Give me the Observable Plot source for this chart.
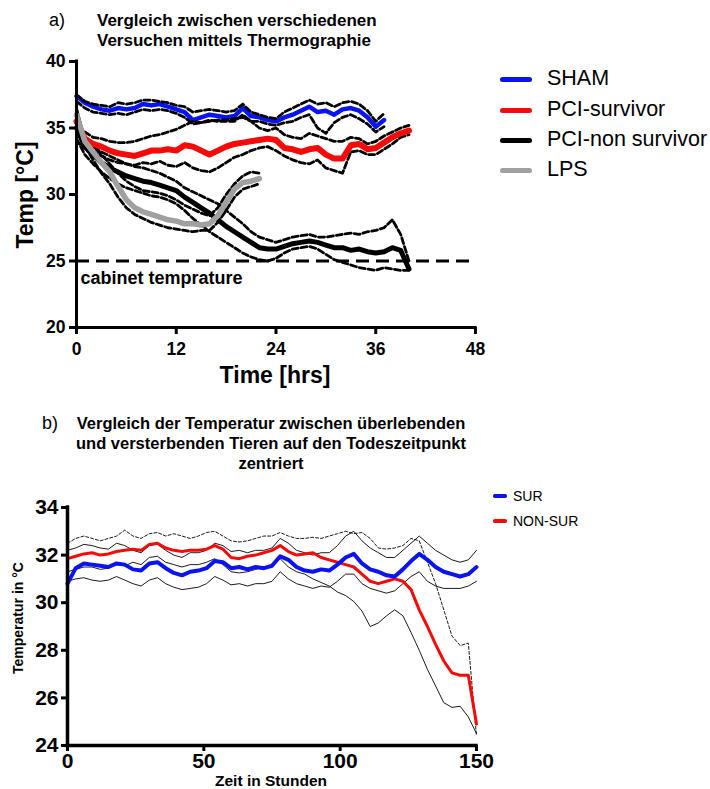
<!DOCTYPE html>
<html><head><meta charset="utf-8">
<script src="https://cdn.jsdelivr.net/npm/d3@7"></script>
<script src="https://cdn.jsdelivr.net/npm/@observablehq/plot@0.6"></script>
<style>
body{margin:0;background:#fff;}
#root{position:relative;width:710px;height:789px;overflow:hidden;font-family:"Liberation Sans",Arial,sans-serif;color:#000;background:#fff;}
.lbl{position:absolute;white-space:nowrap;line-height:1;}
.chart{position:absolute;left:0;}
</style></head><body><div id="root"></div>
<script>
// ---------------- Panel a data ----------------
const titleA = ["Vergleich zwischen verschiedenen", "Versuchen mittels Thermographie"];
const hoursA = [0,1,2,3,4,5,6,7,8,9,10,11,12,13,14,15,16,17,18,19,20,21,22,23,24,25,26,27,28,29,30,31,32,33,34,35,36,37,38,39,40];
const xTicksA = [0,12,24,36,48];
const yTicksA = [20,25,30,35,40];
const xDomainA = [0,48];
const yDomainA = [20,40];
const cabinetTemp = [25];
const cabinetLabel = "cabinet temprature";
const legendA = ["SHAM","PCI-survivor","PCI-non survivor","LPS"];
const colorsA = ["#0a14f0","#f50a0a","#000000","#a0a0a0"];

const shamMean = [37.4,36.9,36.6,36.4,36.3,36.5,36.4,36.5,36.8,36.7,
 36.8,36.6,36.4,36.2,35.6,35.8,36.0,35.9,35.8,35.9,
 36.5,35.9,35.8,35.6,35.5,35.8,36.0,36.3,36.6,36.2,
 36.3,36.0,36.4,36.5,36.3,35.8,35.1,35.6];
const shamUp = [37.5,37.0,36.8,36.7,36.6,36.9,36.8,36.9,37.1,37.1,
 37.0,36.9,36.7,36.6,36.2,36.3,36.4,36.3,36.2,36.3,
 36.8,36.2,36.0,35.8,35.7,36.2,36.5,36.8,37.1,36.8,
 36.9,36.6,36.9,37.0,36.8,36.3,35.5,36.1];
const shamLo = [37.0,36.5,36.2,36.1,36.0,36.1,36.0,36.2,36.4,36.3,
 36.4,36.3,36.1,35.8,35.3,35.4,35.6,35.5,35.5,35.5,
 36.0,35.5,35.5,35.3,35.2,35.4,35.5,35.8,36.0,35.0,
 34.6,35.4,35.8,36.0,35.7,35.3,34.7,35.1];

const survMean = [35.5,34.2,33.8,33.6,33.3,33.1,33.0,32.9,33.1,33.3,
 33.3,33.4,33.3,33.7,33.6,33.3,33.0,33.3,33.6,33.8,
 33.9,34.0,34.1,34.2,34.1,33.5,33.4,33.2,33.4,33.5,
 33.0,32.7,32.7,33.7,33.8,33.4,33.5,33.9,34.3,34.6,
 34.8];
const survUp = [35.0,34.7,34.3,34.2,34.0,33.9,33.9,34.0,34.2,34.4,
 34.5,34.7,34.9,35.2,35.5,35.4,35.5,35.6,35.6,35.7,
 35.8,35.5,35.0,34.8,35.0,34.5,34.3,34.2,34.6,34.4,
 34.2,34.0,34.0,34.3,34.2,33.8,34.0,34.4,34.7,35.0,
 35.2];
const survLo = [34.0,33.5,33.2,32.9,32.6,32.4,32.3,32.2,32.4,32.3,
 32.5,32.2,32.1,32.4,32.0,31.8,31.7,32.0,32.4,32.8,
 33.0,33.3,33.5,33.6,33.3,32.9,32.6,32.4,32.3,32.6,
 32.0,31.8,31.6,33.2,33.3,33.0,33.0,33.4,33.8,34.3,
 34.5];

const nsMean = [35.0,33.6,33.0,32.4,32.0,31.7,31.4,31.2,31.0,30.9,
 30.7,30.5,30.3,29.8,29.4,29.0,28.6,28.1,27.6,27.2,
 26.8,26.4,26.0,25.9,25.9,26.1,26.3,26.4,26.5,26.4,
 26.2,26.0,26.0,25.8,25.9,25.7,25.6,25.7,26.0,25.8,
 24.4];
const nsUp = [36.5,34.0,33.6,33.2,32.9,32.6,32.3,32.1,32.0,31.8,
 31.6,31.3,31.0,30.5,30.2,29.9,29.6,29.3,28.8,28.3,
 27.8,27.2,26.8,26.6,26.4,26.6,26.8,26.9,27.0,26.8,
 26.8,26.9,27.0,27.1,27.0,27.2,27.3,27.5,28.1,27.0,
 25.0];
const nsLo = [34.2,33.0,32.3,31.7,31.2,30.8,30.5,30.3,30.1,29.9,
 29.8,29.6,29.3,28.8,28.2,27.7,27.2,26.8,26.4,26.0,
 25.6,25.3,25.1,25.0,25.2,25.6,25.9,26.0,26.1,25.9,
 25.5,25.1,24.9,24.7,24.5,24.4,24.3,24.5,24.4,24.3,
 24.3];

const lpsMean = [36.0,34.0,33.2,32.4,31.7,30.6,29.6,29.0,28.7,28.5,
 28.3,28.1,28.0,27.8,27.8,27.7,27.8,28.4,29.4,30.4,
 30.9,31.0,31.2];
const lpsUp = [36.3,34.2,33.6,33.0,32.3,31.6,31.0,30.6,30.3,30.2,
 30.1,29.9,29.6,29.2,28.9,28.6,28.4,29.0,30.0,30.8,
 31.4,31.7,31.6];
const lpsLo = [35.5,33.6,32.6,31.6,30.8,29.8,29.0,28.5,28.2,27.9,
 27.7,27.5,27.4,27.3,27.2,27.3,27.3,27.9,28.8,29.8,
 30.4,30.6,30.8];

// ---------------- Panel b data ----------------
const titleB = ["Vergleich der Temperatur zwischen überlebenden", "und versterbenden Tieren auf den Todeszeitpunkt", "zentriert"];
const hoursB = [0,3,6,9,12,15,18,21,24,27,30,33,36,39,42,45,48,51,54,57,60,63,66,69,72,75,78,81,84,87,90,93,96,99,102,105,108,111,114,117,120,123,126,129,132,135,138,141,144,147,150];
const xTicksB = [0,50,100,150];
const yTicksB = [24,26,28,30,32,34];
const xDomainB = [0,150];
const yDomainB = [24,34];
const legendB = ["SUR","NON-SUR"];
const colorsB = ["#0a14f0","#f50a0a"];

const surMean = [30.8,31.45,31.65,31.6,31.55,31.5,31.65,31.6,31.4,31.35,
 31.65,31.7,31.45,31.25,31.15,31.3,31.35,31.45,31.75,31.7,
 31.45,31.5,31.4,31.5,31.45,31.55,31.95,31.8,31.5,31.35,
 31.3,31.4,31.35,31.6,31.9,32.05,31.65,31.4,31.3,31.15,
 31.1,31.4,31.75,32.05,31.8,31.5,31.3,31.2,31.1,31.2,
 31.5];
const nonsurMean = [31.85,31.95,32.05,32.1,32.0,32.05,32.15,32.2,32.25,32.2,
 32.45,32.5,32.3,32.2,32.15,32.2,32.2,32.25,32.4,32.25,
 31.9,31.85,31.95,32.0,32.1,32.2,32.4,32.15,32.0,32.05,
 32.1,31.9,31.8,31.7,31.6,31.5,31.2,30.9,30.8,30.9,
 31.0,30.9,30.55,29.7,29.0,28.25,27.55,27.05,26.95,26.95,
 24.9];
const surUp = [32.2,32.3,32.45,32.4,32.3,32.25,32.5,32.4,32.2,32.1,
 32.4,32.45,32.2,32.0,31.9,32.1,32.1,32.2,32.5,32.4,
 32.15,32.2,32.1,32.2,32.2,32.3,32.7,32.5,32.2,32.1,
 32.0,32.1,32.1,32.4,32.8,33.0,32.6,32.3,32.1,31.9,
 31.9,32.2,32.5,32.8,32.5,32.2,32.0,31.8,31.7,31.8,
 32.2];
const surLo = [30.9,31.0,31.05,30.95,30.9,30.95,31.1,30.95,30.8,30.7,
 30.95,31.05,30.8,30.65,30.55,30.6,30.65,30.8,31.1,30.95,
 30.75,30.8,30.7,30.8,30.8,30.9,31.3,31.0,30.8,30.7,
 30.6,30.7,30.65,30.9,31.2,31.2,30.8,30.6,30.5,30.4,
 30.5,30.8,31.1,31.3,30.9,30.7,30.6,30.6,30.6,30.7,
 30.9];
const nonsurUp = [32.5,32.7,32.8,32.7,32.6,32.7,32.8,33.05,32.8,32.7,
 32.9,32.95,32.8,32.9,32.8,32.7,32.8,32.95,33.0,32.8,
 32.6,32.55,32.6,32.7,32.8,32.8,32.95,32.8,32.7,32.7,
 32.75,32.7,32.8,32.9,33.0,32.9,32.95,32.7,32.3,32.25,
 32.3,32.4,32.7,32.6,31.7,30.8,29.7,28.6,28.2,28.3,
 24.4];
const nonsurLo = [31.3,31.4,31.5,31.5,31.4,31.45,31.6,31.55,31.7,31.6,
 31.9,31.95,31.7,31.6,31.5,31.6,31.6,31.7,31.85,31.6,
 31.3,31.25,31.3,31.4,31.5,31.6,31.85,31.5,31.3,31.2,
 31.0,30.85,30.7,30.45,30.3,30.05,29.65,29.0,29.15,29.45,
 29.7,29.45,28.75,28.0,27.2,26.5,25.8,25.6,25.65,25.2,
 24.5];

// ---------------- helpers ----------------
const root = document.getElementById("root");
function label(text, x, y, o = {}) {
  const {size = 15, weight = "bold", anchor = "start", rotate = 0, family} = o;
  const d = document.createElement("div");
  d.className = "lbl";
  d.textContent = text;
  d.style.fontSize = size + "px";
  d.style.fontWeight = weight;
  if (family) d.style.fontFamily = family;
  d.style.left = x + "px";
  d.style.top = y + "px";
  const tx = anchor === "middle" ? "-50%" : anchor === "end" ? "-100%" : "0";
  d.style.transform = `translate(${tx},-50%)` + (rotate ? ` rotate(${rotate}deg)` : "");
  root.appendChild(d);
}
function swatch(x1, x2, y, color, w) {
  const d = document.createElement("div");
  d.style.position = "absolute";
  d.style.left = x1 + "px";
  d.style.top = (y - w / 2) + "px";
  d.style.width = (x2 - x1) + "px";
  d.style.height = w + "px";
  d.style.background = color;
  d.style.borderRadius = (w / 2) + "px";
  root.appendChild(d);
}
const rows = (times, vals, s) => vals.map((v, i) => ({t: times[i], v, s}));

// ---------------- Panel a ----------------
const dashedA = [
  ...rows(hoursA, shamUp, "su"), ...rows(hoursA, shamLo, "sl"),
  ...rows(hoursA, survUp, "pu"), ...rows(hoursA, survLo, "pl"),
  ...rows(hoursA, nsUp, "nu"), ...rows(hoursA, nsLo, "nl"),
  ...rows(hoursA, lpsUp, "lu"), ...rows(hoursA, lpsLo, "ll")
];
const plotA = Plot.plot({
  width: 480, height: 390,
  marginLeft: 76, marginRight: 5, marginTop: 61, marginBottom: 63,
  style: {fontFamily: "Liberation Sans, Arial, sans-serif", background: "transparent", overflow: "visible"},
  x: {domain: xDomainA},
  y: {domain: yDomainA},
  marks: [
    Plot.ruleY(cabinetTemp, {strokeWidth: 3, strokeDasharray: "13,7"}),
    Plot.line(rows(hoursA, shamMean, "m"), {x: "t", y: "v", stroke: colorsA[0], strokeWidth: 4.5, strokeLinejoin: "round"}),
    Plot.line(dashedA, {x: "t", y: "v", z: "s", stroke: "#000", strokeWidth: 2.8, strokeDasharray: "6,3"}),
    Plot.line(rows(hoursA, survMean, "m"), {x: "t", y: "v", stroke: colorsA[1], strokeWidth: 6, strokeLinejoin: "round"}),
    Plot.line(rows(hoursA, nsMean, "m"), {x: "t", y: "v", stroke: colorsA[2], strokeWidth: 5, strokeLinejoin: "round"}),
    Plot.line(rows(hoursA, lpsMean, "m"), {x: "t", y: "v", stroke: colorsA[3], strokeWidth: 5.5, strokeLinejoin: "round"}),
    Plot.text(cabinetTemp, {x: () => xDomainA[0], y: d => d, text: () => cabinetLabel, textAnchor: "start", dx: 4, dy: 17, fontSize: 18, fontWeight: "bold", fill: "#000"}),
    Plot.ruleX([xDomainA[0]], {strokeWidth: 3, strokeLinecap: "square"}),
    Plot.ruleY([yDomainA[0]], {strokeWidth: 3, strokeLinecap: "square"}),
    Plot.axisX({ticks: xTicksA, tickSize: 7, tickPadding: 8, fontSize: 17.5, fontWeight: "bold", strokeWidth: 3, label: null}),
    Plot.axisY({ticks: yTicksA, tickSize: 7, tickPadding: 4, fontSize: 17.5, fontWeight: "bold", strokeWidth: 3, label: null})
  ]
});
plotA.classList.add("chart");
plotA.style.top = "0px";
root.appendChild(plotA);

label("a)", 49, 20, {size: 18, weight: "normal"});
label(titleA[0], 97, 20, {size: 17});
label(titleA[1], 97, 40, {size: 17});
label("Temp [°C]", 25, 195, {size: 23, rotate: -90, anchor: "middle"});
label("Time [hrs]", 275, 375, {size: 23, anchor: "middle"});
const legYA = [79, 110, 140, 170];
legendA.forEach((name, i) => {
  swatch(500, 532, legYA[i], colorsA[i], 5);
  label(name, 547, legYA[i], {size: 21.5, weight: "normal"});
});

// ---------------- Panel b ----------------
const plotB = Plot.plot({
  width: 490, height: 320,
  marginLeft: 67, marginRight: 14, marginTop: 37, marginBottom: 45,
  style: {fontFamily: "Liberation Sans, Arial, sans-serif", background: "transparent", overflow: "visible"},
  x: {domain: xDomainB},
  y: {domain: yDomainB},
  marks: [
    Plot.line([...rows(hoursB, surUp, "a"), ...rows(hoursB, surLo, "b"), ...rows(hoursB, nonsurLo, "c")],
      {x: "t", y: "v", z: "s", stroke: "#000", strokeWidth: 0.9}),
    Plot.line(rows(hoursB, nonsurUp, "d"), {x: "t", y: "v", stroke: "#000", strokeWidth: 0.9, strokeDasharray: "3,2"}),
    Plot.line(rows(hoursB, nonsurMean, "m"), {x: "t", y: "v", stroke: colorsB[1], strokeWidth: 3, strokeLinejoin: "round"}),
    Plot.line(rows(hoursB, surMean, "m"), {x: "t", y: "v", stroke: colorsB[0], strokeWidth: 4, strokeLinejoin: "round"}),
    Plot.ruleX([xDomainB[0]], {strokeWidth: 3.5, strokeLinecap: "square"}),
    Plot.ruleY([yDomainB[0]], {strokeWidth: 3.5, strokeLinecap: "square"}),
    Plot.axisX({ticks: xTicksB, tickSize: 6, tickPadding: 2, fontSize: 21, fontWeight: "bold", strokeWidth: 3, label: null}),
    Plot.axisY({ticks: yTicksB, tickSize: 6, tickPadding: 3, fontSize: 21, fontWeight: "bold", strokeWidth: 3, label: null})
  ]
});
plotB.classList.add("chart");
plotB.style.top = "470px";
root.appendChild(plotB);

label("b)", 42, 423, {size: 18, weight: "normal"});
titleB.forEach((t, i) => label(t, 271, 423 + 20 * i, {size: 16.5, anchor: "middle"}));
label("Temperatur in °C", 18, 618, {size: 14, rotate: -90, anchor: "middle"});
label("Zeit in Stunden", 271, 781, {size: 15.5, anchor: "middle"});
const legYB = [496, 521];
legendB.forEach((name, i) => {
  swatch(493, 507, legYB[i], colorsB[i], 3.5);
  label(name, 513, legYB[i], {size: 14, weight: "normal"});
});
</script></body></html>
